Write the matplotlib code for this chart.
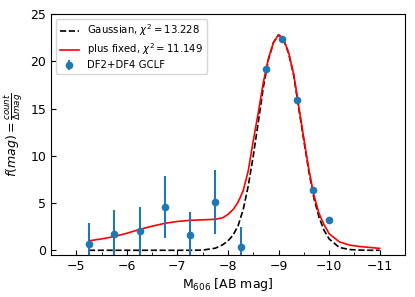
import matplotlib.pyplot as plt
import numpy as np

# GCLF points
bin_mag = [-5.25, -5.75, -6.25, -6.75, -7.25, -7.75, -8.25, -8.75,
           -9.06, -9.37, -9.68, -10.0]
counts = [0.67, 1.69, 2.07, 4.58, 1.59, 5.08, 0.38, 19.15,
          22.36, 15.94, 6.38, 3.2]
count_err = [2.19, 2.57, 2.54, 3.29, 2.49, 3.37, 2.1, 0.0,
             0.0, 0.0, 0.0, 0.0]

# fitted curves
curve_mag = [-5.25, -5.5, -5.75, -6.0, -6.25, -6.5, -6.75, -7.0, -7.25, -7.5,
             -7.75, -7.9, -8.0, -8.1, -8.2, -8.3, -8.4, -8.5, -8.6, -8.7,
             -8.8, -8.9, -9.0, -9.1, -9.2, -9.3, -9.4, -9.5, -9.6, -9.7,
             -9.8, -9.9, -10.0, -10.2, -10.4, -10.6, -10.8, -11.0]
gauss = [0.0, 0.0, 0.0, 0.0, 0.0, 0.0, 0.0, 0.0, 0.0, 0.02,
         0.22, 0.6, 1.0, 1.6, 2.6, 4.3, 6.8, 10.0, 13.6, 17.3,
         20.2, 22.0, 22.8, 22.3, 20.8, 18.5, 15.0, 11.6, 8.3, 5.5,
         3.5, 2.1, 1.2, 0.3, 0.08, 0.02, 0.0, 0.0]
plus_fixed = [1.0, 1.2, 1.45, 1.8, 2.2, 2.55, 2.85, 3.05, 3.17, 3.22,
              3.28, 3.45, 3.8, 4.3, 5.1, 6.3, 8.4, 11.6, 14.6, 17.8,
              20.3, 22.0, 22.8, 22.3, 20.9, 18.6, 15.2, 11.8, 8.5, 5.8,
              3.9, 2.7, 1.75, 0.9, 0.55, 0.4, 0.3, 0.2]

plt.rcParams['font.size'] = 9

fig = plt.figure(figsize=(4.15, 2.97), dpi=100)
ax = fig.add_axes([51/415, 1 - 255/297, 354/415, 241/297])

ax.plot(curve_mag, gauss, 'k--', lw=1.2, label=r'Gaussian, $\chi^2 = 13.228$')
ax.plot(curve_mag, plus_fixed, 'r-', lw=1.2, label=r'plus fixed, $\chi^2 = 11.149$')
ax.errorbar(bin_mag, counts, yerr=count_err, fmt='o', color='tab:blue',
            ms=4.5, elinewidth=1.5, label='DF2+DF4 GCLF')

ax.set_xlim(-4.5, -11.5)
ax.set_ylim(-0.5, 25)
ax.set_xticks([-5, -6, -7, -8, -9, -10, -11])
ax.set_xticks(np.arange(-4.5, -11.6, -0.5), minor=True)
ax.tick_params(direction='in', which='both')
ax.set_xlabel(r'M$_{606}$ [AB mag]', fontsize=9, labelpad=2)
ax.set_ylabel(r'$f(mag) = \frac{count}{\Delta mag}$', fontsize=9)
ax.legend(loc='upper left', fontsize=7.3, labelspacing=0.3, borderpad=0.35,
          handlelength=1.9)

fig.savefig('out.png', dpi=100)
